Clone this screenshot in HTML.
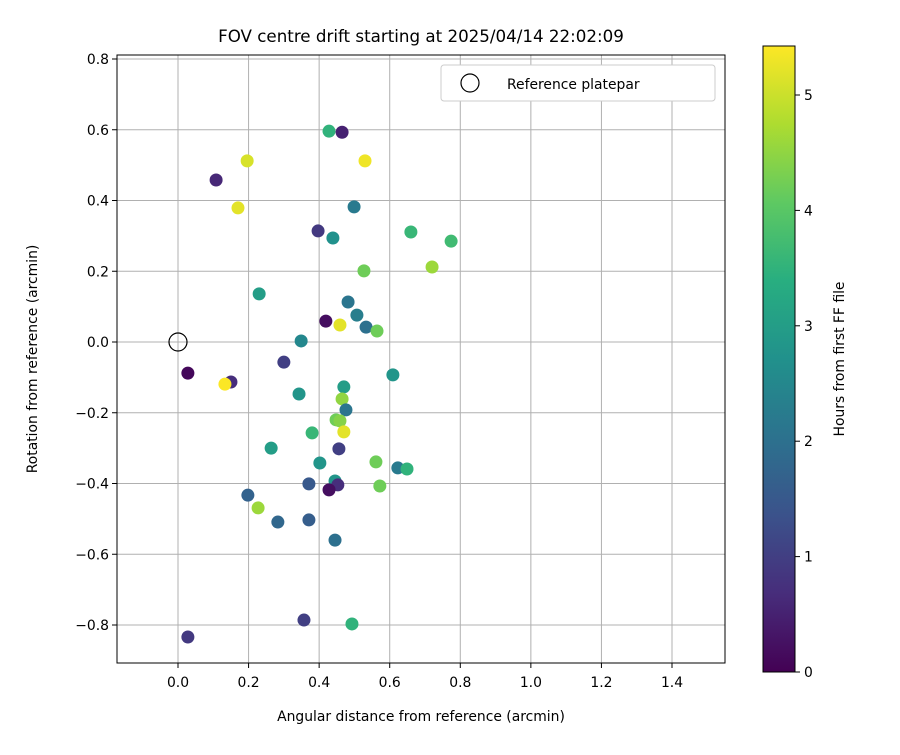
<!DOCTYPE html>
<html><head><meta charset="utf-8"><style>
body{margin:0;background:#fff;}
svg text{font-family:"DejaVu Sans","Liberation Sans",sans-serif;fill:#000;}
</style></head><body>
<svg id="chart" width="900" height="750" xmlns="http://www.w3.org/2000/svg">
<defs><linearGradient id="vir" x1="0" y1="1" x2="0" y2="0">
<stop offset="0" stop-color="#440154"/><stop offset="0.125" stop-color="#472d7b"/><stop offset="0.25" stop-color="#3b528b"/><stop offset="0.375" stop-color="#2c728e"/><stop offset="0.5" stop-color="#21918c"/><stop offset="0.625" stop-color="#28ae80"/><stop offset="0.75" stop-color="#5ec962"/><stop offset="0.875" stop-color="#addc30"/><stop offset="1" stop-color="#fde725"/>
</linearGradient></defs>
<g id="grid"></g>
<g id="marks"></g>
<circle cx="178" cy="342" r="9" fill="none" stroke="#000" stroke-width="1.2"/>
<rect x="117" y="55" width="608" height="608" fill="none" stroke="#000" stroke-width="1"/>
<g id="ticks"></g>
<text x="421" y="42" font-size="16.7" text-anchor="middle">FOV centre drift starting at 2025/04/14 22:02:09</text>
<text x="421" y="721" font-size="13.9" text-anchor="middle">Angular distance from reference (arcmin)</text>
<text x="37" y="359" font-size="13.9" text-anchor="middle" transform="rotate(-90 37 359)">Rotation from reference (arcmin)</text>
<g>
<rect x="441" y="65" width="274" height="36" rx="3" fill="#fff" stroke="#ccc"/>
<circle cx="470" cy="83" r="9" fill="none" stroke="#000" stroke-width="1.2"/>
<text x="507" y="89" font-size="13.9">Reference platepar</text>
</g>
<g>
<rect x="763" y="46" width="32" height="626" fill="url(#vir)" stroke="#000" stroke-width="1"/>
<g id="cbticks"></g>
<text x="844" y="359" font-size="13.9" text-anchor="middle" transform="rotate(-90 844 359)">Hours from first FF file</text>
</g>
</svg>
<script>
const xs=[0.428,0.465,0.196,0.530,0.108,0.170,0.499,0.397,0.439,0.660,0.774,0.720,0.527,0.230,0.482,0.507,0.419,0.459,0.533,0.564,0.349,0.300,0.028,0.150,0.133,0.470,0.609,0.343,0.465,0.476,0.448,0.459,0.470,0.380,0.264,0.456,0.402,0.561,0.623,0.649,0.445,0.371,0.453,0.428,0.572,0.198,0.227,0.283,0.371,0.445,0.357,0.493,0.028];
const ys=[0.596,0.593,0.512,0.512,0.458,0.379,0.382,0.314,0.294,0.311,0.285,0.212,0.201,0.136,0.113,0.076,0.059,0.048,0.042,0.031,0.003,-0.057,-0.088,-0.113,-0.119,-0.127,-0.093,-0.147,-0.161,-0.192,-0.220,-0.223,-0.254,-0.257,-0.300,-0.302,-0.342,-0.339,-0.356,-0.359,-0.393,-0.401,-0.404,-0.418,-0.407,-0.433,-0.469,-0.509,-0.503,-0.560,-0.786,-0.797,-0.834];
const hours=[3.5,0.5,5.1,5.3,0.6,5.2,2.2,0.9,2.7,3.6,3.7,4.6,4.2,3.0,2.1,2.3,0.2,5.2,2.0,4.2,2.5,1.0,0.1,0.7,5.4,3.0,2.8,2.8,4.5,2.1,4.2,4.4,5.2,3.6,3.0,1.0,2.8,4.2,2.2,3.5,2.8,1.5,0.7,0.2,4.2,1.7,4.6,1.8,1.6,2.0,1.0,3.5,0.9];
const xTicks=[0,0.2,0.4,0.6,0.8,1.0,1.2,1.4];
const yTicks=[-0.8,-0.6,-0.4,-0.2,0,0.2,0.4,0.6,0.8];
const cTicks=[0,1,2,3,4,5];
const X=v=>178+v*352.86, Y=v=>342-v*353.75, C=v=>672-v*115.4, HMAX=5.42;
const stops=[[68,1,84],[71,45,123],[59,82,139],[44,114,142],[33,145,140],[40,174,128],[94,201,98],[173,220,48],[253,231,37]];
function vir(t){t=Math.max(0,Math.min(1,t))*8;const i=Math.min(7,Math.floor(t)),f=t-i,a=stops[i],b=stops[i+1];
return `rgb(${a.map((c,k)=>Math.round(c+(b[k]-c)*f)).join(',')})`;}
const NS='http://www.w3.org/2000/svg';
function mk(t,p,parent){const e=document.createElementNS(NS,t);for(const k in p)e.setAttribute(k,p[k]);document.getElementById(parent).appendChild(e);return e;}
xTicks.forEach(v=>{
 const g=mk('line',{x1:X(v),x2:X(v),y1:55,y2:663,stroke:'#b0b0b0','stroke-width':1},'grid');
 
 
 mk('line',{x1:X(v),x2:X(v),y1:663,y2:668,stroke:'#000'},'ticks');
 const t=mk('text',{x:X(v),y:687,'font-size':13.9,'text-anchor':'middle'},'ticks');t.textContent=v.toFixed(1);
 
 
});
yTicks.forEach(v=>{
 const g=mk('line',{x1:117,x2:725,y1:Y(v),y2:Y(v),stroke:'#b0b0b0','stroke-width':1},'grid');
 
 
 mk('line',{x1:112,x2:117,y1:Y(v),y2:Y(v),stroke:'#000'},'ticks');
 const t=mk('text',{x:109,y:Y(v)+5,'font-size':13.9,'text-anchor':'end'},'ticks');t.textContent=(v<0?'\u2212':'')+Math.abs(v).toFixed(1);
 
 
});
cTicks.forEach(v=>{
 mk('line',{x1:795,x2:800,y1:C(v),y2:C(v),stroke:'#000'},'cbticks');
 const t=mk('text',{x:804,y:C(v)+5,'font-size':13.9},'cbticks');t.textContent=v;
 
 
});
xs.forEach((x,i)=>{
 const c=mk('circle',{cx:X(x),cy:Y(ys[i]),r:6.5,fill:vir(hours[i]/HMAX)},'marks');
 
 
});
</script>
</body></html>
